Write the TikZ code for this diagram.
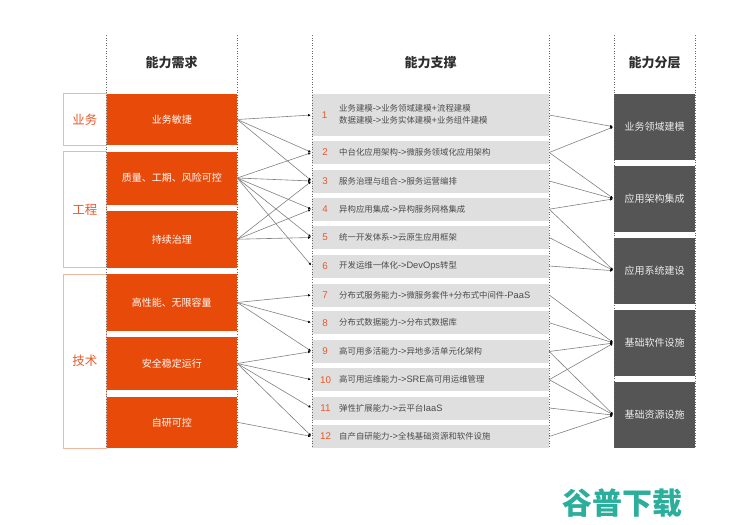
\documentclass[tikz,border=0pt]{standalone}
\usepackage{fontspec}
\setmainfont{Noto Sans CJK SC}
\newfontfamily\latfont{Liberation Sans}
\newfontfamily\markfont{Noto Sans CJK SC Black}
\usetikzlibrary{arrows.meta}
\definecolor{reqorange}{RGB}{232,74,10}
\definecolor{domline}{RGB}{243,182,158}
\definecolor{domtext}{RGB}{232,88,44}
\definecolor{supgray}{RGB}{223,223,223}
\definecolor{laydark}{RGB}{85,85,85}
\definecolor{marktext}{RGB}{43,174,155}
\def\latpart#1{{\latfont\fontsize{9.3}{12.2}\selectfont #1}}
\tikzset{
	guide/.style={line width=0.6pt, color=black!60, dotted},
	head/.style={font=\fontsize{13}{15}\selectfont\bfseries, text=black!82},
	dombox/.style={draw=domline, line width=0.6pt, inner sep=0pt, minimum width=42.5pt, text=domtext, font=\fontsize{12.5}{14}\selectfont},
	reqbox/.style={fill=reqorange, inner sep=0pt, minimum width=130.5pt, text=white, font=\fontsize{10}{12}\selectfont},
	supbox/.style={fill=supgray, inner sep=0pt, minimum width=237pt},
	laybox/.style={fill=laydark, inner sep=0pt, minimum width=81pt, text=white!92!black, font=\fontsize{10}{12}\selectfont},
	numtext/.style={text=domtext, font=\latfont\fontsize{9.8}{11}\selectfont},
	suptext/.style={anchor=west, inner sep=0pt, align=left, text=black!70, font=\fontsize{8.4}{12.2}\selectfont},
	link/.style={draw=black!50, line width=0.6pt, shorten >=1pt, -{Latex[length=2.6pt,width=2.6pt,black]}}
}
\begin{document}
\begin{tikzpicture}[x=1pt,y=-1pt]
	%%%%% CANVAS %%%%%
	\useasboundingbox (0, 0) rectangle (740, 525);
	
	%%%%% HEADERS %%%%%
	\node[head] (headreq) at (171.5, 63) {能力需求};
	\node[head] (headsup) at (430.5, 63) {能力支撑};
	\node[head] (headlay) at (654.5, 63) {能力分层};
	
	%%%%% DOMAINS %%%%%
	\node[dombox, minimum height=51.5pt] (dom1) at (84.75, 119.25) {业务};
	\node[dombox, minimum height=116pt] (dom2) at (84.75, 209.5) {工程};
	\node[dombox, minimum height=174pt] (dom3) at (84.75, 361) {技术};
	
	%%%%% NEEDS %%%%%
	\node[reqbox, minimum height=51pt] (req1) at (171.75, 119.5) {业务敏捷};
	\node[reqbox, minimum height=53pt] (req2) at (171.75, 178) {质量、工期、风险可控};
	\node[reqbox, minimum height=56.5pt] (req3) at (171.75, 239.25) {持续治理};
	\node[reqbox, minimum height=57pt] (req4) at (171.75, 302.5) {高性能、无限容量};
	\node[reqbox, minimum height=53pt] (req5) at (171.75, 363.5) {安全稳定运行};
	\node[reqbox, minimum height=51.5pt] (req6) at (171.75, 422.25) {自研可控};
	
	%%%%% SUPPORT %%%%%
	\node[supbox, minimum height=42pt] (sup1) at (430.5, 115) {};
	\node[supbox, minimum height=23pt] (sup2) at (430.5, 152.5) {};
	\node[supbox, minimum height=23pt] (sup3) at (430.5, 181) {};
	\node[supbox, minimum height=23pt] (sup4) at (430.5, 209.2) {};
	\node[supbox, minimum height=23pt] (sup5) at (430.5, 237.5) {};
	\node[supbox, minimum height=23pt] (sup6) at (430.5, 266) {};
	\node[supbox, minimum height=23pt] (sup7) at (430.5, 295) {};
	\node[supbox, minimum height=23pt] (sup8) at (430.5, 322.7) {};
	\node[supbox, minimum height=23pt] (sup9) at (430.5, 351.5) {};
	\node[supbox, minimum height=23pt] (sup10) at (430.5, 379.7) {};
	\node[supbox, minimum height=23pt] (sup11) at (430.5, 408) {};
	\node[supbox, minimum height=23pt] (sup12) at (430.5, 436.5) {};
	
	\node[numtext] (num1) at (324.5, 115) {1};
	\node[numtext] (num2) at (325, 152.5) {2};
	\node[numtext] (num3) at (325, 181) {3};
	\node[numtext] (num4) at (325, 209.2) {4};
	\node[numtext] (num5) at (325, 237.5) {5};
	\node[numtext] (num6) at (325, 266) {6};
	\node[numtext] (num7) at (325, 295) {7};
	\node[numtext] (num8) at (325, 322.7) {8};
	\node[numtext] (num9) at (325, 351.5) {9};
	\node[numtext] (num10) at (325.5, 379.7) {10};
	\node[numtext] (num11) at (325.5, 408) {11};
	\node[numtext] (num12) at (325.5, 436.5) {12};
	
	\node[suptext] (txt1) at (339, 114.5) {业务建模\latpart{->}业务领域建模\latpart{+}流程建模\\数据建模\latpart{->}业务实体建模\latpart{+}业务组件建模};
	\node[suptext] (txt2) at (339, 152.5) {中台化应用架构\latpart{->}微服务领域化应用架构};
	\node[suptext] (txt3) at (339, 181) {服务治理与组合\latpart{->}服务运营编排};
	\node[suptext] (txt4) at (339, 209.2) {异构应用集成\latpart{->}异构服务网格集成};
	\node[suptext] (txt5) at (339, 237.5) {统一开发体系\latpart{->}云原生应用框架};
	\node[suptext] (txt6) at (339, 266) {开发运维一体化\latpart{->DevOps}转型};
	\node[suptext] (txt7) at (339, 295) {分布式服务能力\latpart{->}微服务套件\latpart{+}分布式中间件\latpart{-PaaS}};
	\node[suptext] (txt8) at (339, 322.7) {分布式数据能力\latpart{->}分布式数据库};
	\node[suptext] (txt9) at (339, 351.5) {高可用多活能力\latpart{->}异地多活单元化架构};
	\node[suptext] (txt10) at (339, 379.7) {高可用运维能力\latpart{->SRE}高可用运维管理};
	\node[suptext] (txt11) at (339, 408) {弹性扩展能力\latpart{->}云平台\latpart{IaaS}};
	\node[suptext] (txt12) at (339, 436.5) {自产自研能力\latpart{->}全栈基础资源和软件设施};
	
	%%%%% LAYERS %%%%%
	\node[laybox, minimum height=65.5pt] (lay1) at (654.5, 126.75) {业务领域建模};
	\node[laybox, minimum height=65.7pt] (lay2) at (654.5, 198.85) {应用架构集成};
	\node[laybox, minimum height=65.5pt] (lay3) at (654.5, 270.75) {应用系统建设};
	\node[laybox, minimum height=66pt] (lay4) at (654.5, 343) {基础软件设施};
	\node[laybox, minimum height=65.7pt] (lay5) at (654.5, 415.15) {基础资源设施};
	
	%%%%% GUIDES %%%%%
	\draw[guide] (106, 35) -- (106, 448);
	\draw[guide] (237, 35) -- (237, 448);
	\draw[guide] (312, 35) -- (312, 448);
	\draw[guide] (549, 35) -- (549, 448);
	\draw[guide] (614, 35) -- (614, 448);
	\draw[guide] (695, 35) -- (695, 448);
	
	%%%%% NEEDS TO SUPPORT %%%%%
	\draw[link] (req1.east) -- (sup1.west);
	\draw[link] (req1.east) -- (sup2.west);
	\draw[link] (req1.east) -- (sup3.west);
	
	\draw[link] (req2.east) -- (sup2.west);
	\draw[link] (req2.east) -- (sup3.west);
	\draw[link] (req2.east) -- (sup4.west);
	\draw[link] (req2.east) -- (sup5.west);
	\draw[link] (req2.east) -- (sup6.west);
	
	\draw[link] (req3.east) -- (sup3.west);
	\draw[link] (req3.east) -- (sup4.west);
	\draw[link] (req3.east) -- (sup5.west);
	
	\draw[link] (req4.east) -- (sup7.west);
	\draw[link] (req4.east) -- (sup8.west);
	\draw[link] (req4.east) -- (sup9.west);
	
	\draw[link] (req5.east) -- (sup9.west);
	\draw[link] (req5.east) -- (sup10.west);
	\draw[link] (req5.east) -- (sup11.west);
	\draw[link] (req5.east) -- (sup12.west);
	
	\draw[link] (req6.east) -- (sup12.west);
	
	%%%%% SUPPORT TO LAYERS %%%%%
	\draw[link] (sup1.east) -- (lay1.west);
	\draw[link] (sup2.east) -- (lay1.west);
	
	\draw[link] (sup2.east) -- (lay2.west);
	\draw[link] (sup3.east) -- (lay2.west);
	\draw[link] (sup4.east) -- (lay2.west);
	
	\draw[link] (sup4.east) -- (lay3.west);
	\draw[link] (sup5.east) -- (lay3.west);
	\draw[link] (sup6.east) -- (lay3.west);
	
	\draw[link] (sup7.east) -- (lay4.west);
	\draw[link] (sup8.east) -- (lay4.west);
	\draw[link] (sup9.east) -- (lay4.west);
	\draw[link] (sup10.east) -- (lay4.west);
	
	\draw[link] (sup9.east) -- (lay5.west);
	\draw[link] (sup10.east) -- (lay5.west);
	\draw[link] (sup11.east) -- (lay5.west);
	\draw[link] (sup12.east) -- (lay5.west);
	
	%%%%% MARK %%%%%
	\node[text=marktext, font=\markfont\fontsize{30}{33}\selectfont] (mark) at (622, 503.5) {谷普下载};
\end{tikzpicture}
\end{document}
